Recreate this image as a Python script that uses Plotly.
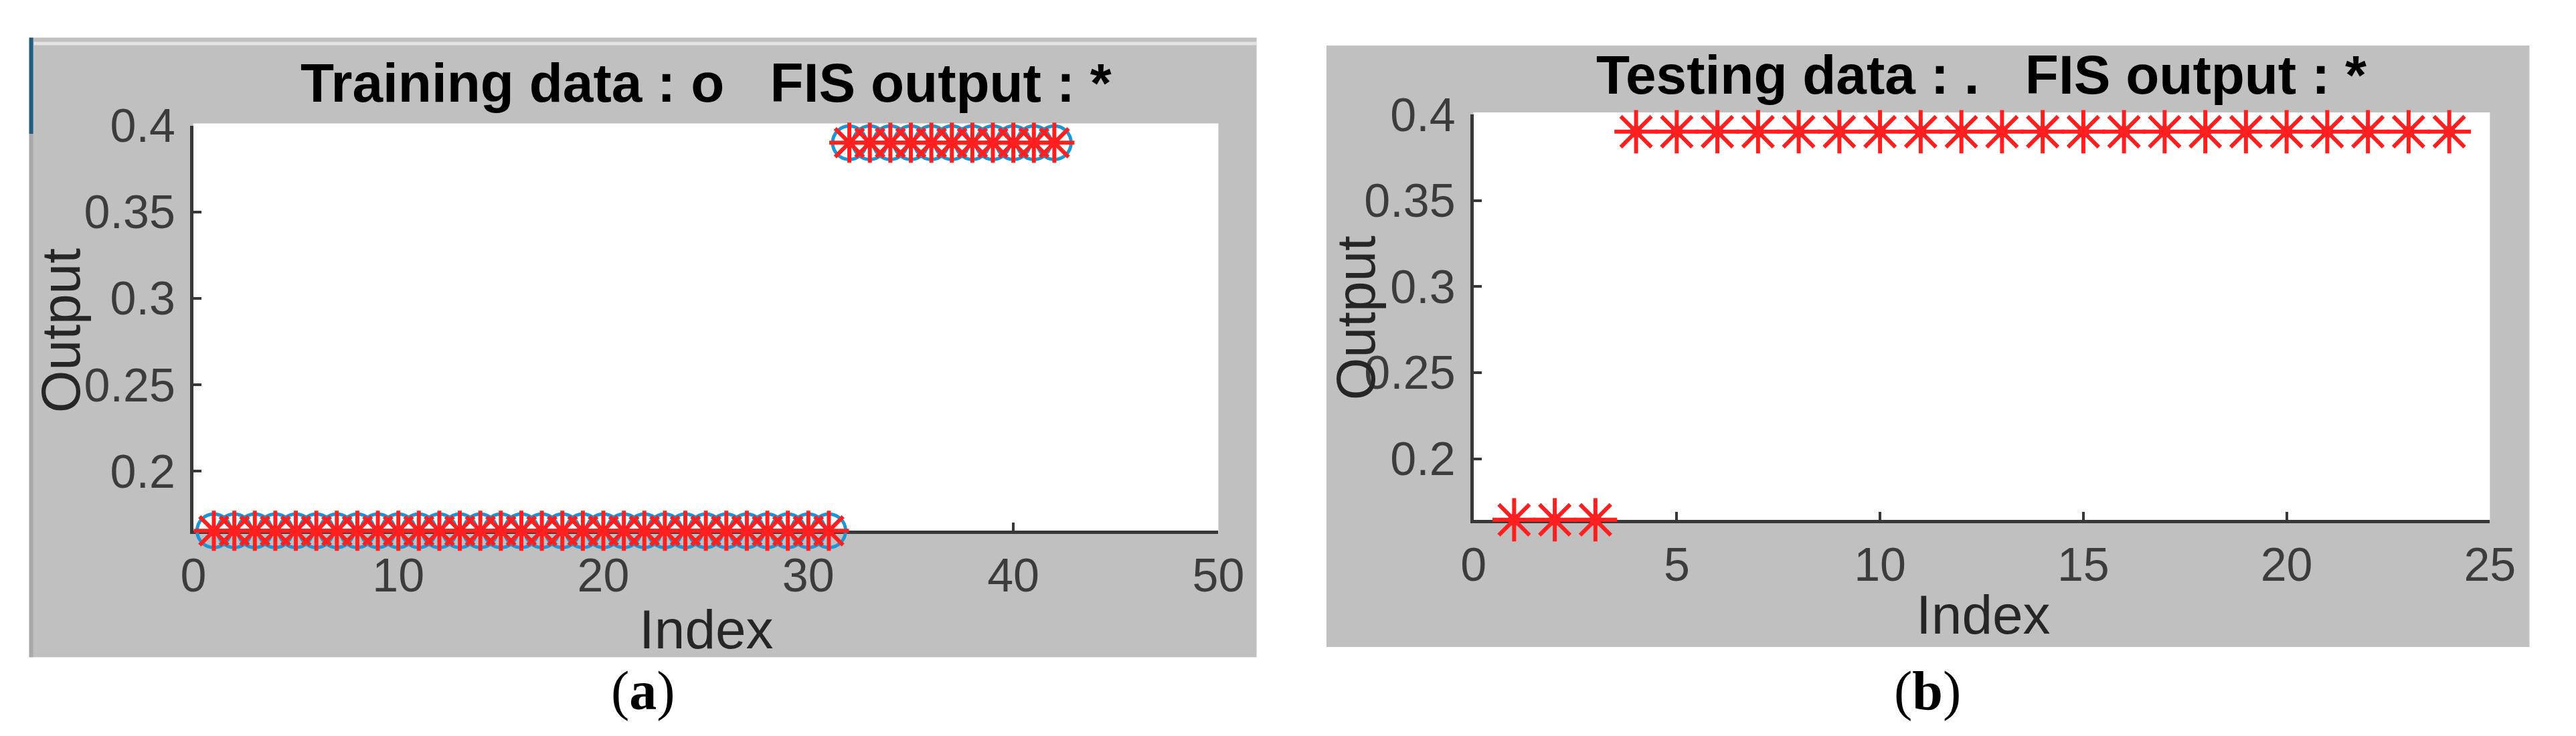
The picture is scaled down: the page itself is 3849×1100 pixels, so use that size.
import plotly.graph_objects as go

W, H = 3849, 1100

# ---------------- data ----------------
train_index = [1, 2, 3, 4, 5, 6, 7, 8, 9, 10, 11, 12, 13, 14, 15, 16, 17, 18, 19, 20, 21,
               22, 23, 24, 25, 26, 27, 28, 29, 30, 31, 32, 33, 34, 35, 36, 37, 38, 39, 40, 41, 42]
train_data = [0.1655, 0.1655, 0.1655, 0.1655, 0.1655, 0.1655, 0.1655, 0.1655, 0.1655, 0.1655,
              0.1655, 0.1655, 0.1655, 0.1655, 0.1655, 0.1655, 0.1655, 0.1655, 0.1655, 0.1655,
              0.1655, 0.1655, 0.1655, 0.1655, 0.1655, 0.1655, 0.1655, 0.1655, 0.1655, 0.1655,
              0.1655, 0.39, 0.39, 0.39, 0.39, 0.39, 0.39, 0.39, 0.39, 0.39, 0.39, 0.39]
train_fis = [0.1655, 0.1655, 0.1655, 0.1655, 0.1655, 0.1655, 0.1655, 0.1655, 0.1655, 0.1655,
             0.1655, 0.1655, 0.1655, 0.1655, 0.1655, 0.1655, 0.1655, 0.1655, 0.1655, 0.1655,
             0.1655, 0.1655, 0.1655, 0.1655, 0.1655, 0.1655, 0.1655, 0.1655, 0.1655, 0.1655,
             0.1655, 0.39, 0.39, 0.39, 0.39, 0.39, 0.39, 0.39, 0.39, 0.39, 0.39, 0.39]

test_index = [1, 2, 3, 4, 5, 6, 7, 8, 9, 10, 11, 12, 13, 14, 15, 16, 17, 18, 19, 20, 21, 22, 23, 24]
test_data = [0.1645, 0.1645, 0.1645, 0.39, 0.39, 0.39, 0.39, 0.39, 0.39, 0.39, 0.39, 0.39,
             0.39, 0.39, 0.39, 0.39, 0.39, 0.39, 0.39, 0.39, 0.39, 0.39, 0.39, 0.39]
test_fis = [0.1645, 0.1645, 0.1645, 0.39, 0.39, 0.39, 0.39, 0.39, 0.39, 0.39, 0.39, 0.39,
            0.39, 0.39, 0.39, 0.39, 0.39, 0.39, 0.39, 0.39, 0.39, 0.39, 0.39, 0.39]

train_xticks = [0, 10, 20, 30, 40, 50]
test_xticks = [0, 5, 10, 15, 20, 25]
yticks = [0.2, 0.25, 0.3, 0.35, 0.4]
ytick_labels = ["0.2", "0.25", "0.3", "0.35", "0.4"]

NB = "\u00a0"
train_title = "Training data : o" + NB * 3 + "FIS output : *"
test_title = "Testing data : ." + NB * 3 + "FIS output : *"
x_label = "Index"
y_label = "Output"
caption_a = "(<b>a</b>)"
caption_b = "(<b>b</b>)"


def px(x):
    return x / W


def py(y):
    return 1 - y / H


GRAY = "#c0c0c0"
AXC = "#383838"
TICKFONT = dict(family="Liberation Sans", size=70, color="#3c3c3c")
LABFONT = dict(family="Liberation Sans", size=82, color="#262626")
TITLEFONT = dict(family="Liberation Sans", size=82, color="#000000", weight="bold")
CAPFONT = dict(family="Liberation Serif", size=82, color="#000000")

fig = go.Figure()

# Training panel
fig.add_trace(go.Scatter(
    x=train_index, y=train_data, mode="markers", xaxis="x", yaxis="y",
    marker=dict(symbol="circle-open", size=50, color="#1c96d4",
                line=dict(width=5, color="#1c96d4")),
    cliponaxis=False, showlegend=False))
fig.add_trace(go.Scatter(
    x=train_index, y=train_fis, mode="markers", xaxis="x", yaxis="y",
    marker=dict(symbol="asterisk-open", size=50, color="#ff1f1f",
                line=dict(width=6, color="#ff1f1f")),
    cliponaxis=False, showlegend=False))

# Testing panel
fig.add_trace(go.Scatter(
    x=test_index, y=test_data, mode="markers", xaxis="x2", yaxis="y2",
    marker=dict(symbol="circle", size=18, color="#14389a"),
    cliponaxis=False, showlegend=False))
fig.add_trace(go.Scatter(
    x=test_index, y=test_fis, mode="markers", xaxis="x2", yaxis="y2",
    marker=dict(symbol="asterisk-open", size=54, color="#ff1f1f",
                line=dict(width=6, color="#ff1f1f")),
    cliponaxis=False, showlegend=False))

axis_common = dict(showgrid=False, zeroline=False, showline=True, linecolor=AXC,
                   linewidth=5, ticks="inside", ticklen=12, tickwidth=4, tickcolor=AXC,
                   tickfont=TICKFONT, layer="below traces", mirror=False)

fig.update_layout(
    width=W, height=H,
    margin=dict(l=0, r=0, t=0, b=0, pad=0),
    paper_bgcolor="white",
    plot_bgcolor="rgba(0,0,0,0)",
    xaxis=dict(domain=[px(274), px(1829)], range=[0, 50], tickvals=train_xticks,
               anchor="y", ticklabelstandoff=2, **axis_common),
    yaxis=dict(domain=[py(782), py(154)], range=[0.1655, 0.4], tickvals=yticks,
               ticktext=ytick_labels, anchor="x", ticklabelstandoff=8, **axis_common),
    xaxis2=dict(domain=[px(2216), px(3758)], range=[0, 25], tickvals=test_xticks,
                anchor="y2", ticklabelstandoff=2, **axis_common),
    yaxis2=dict(domain=[py(765), py(137)], range=[0.1645, 0.4], tickvals=yticks,
                ticktext=ytick_labels, anchor="x2", ticklabelstandoff=8, **axis_common),
)

shapes = [
    # gray panels
    dict(type="rect", xref="paper", yref="paper", x0=px(25), x1=px(1887), y0=py(978), y1=py(18),
         fillcolor=GRAY, line=dict(width=0), layer="below"),
    dict(type="rect", xref="paper", yref="paper", x0=px(1993), x1=px(3818), y0=py(962), y1=py(30),
         fillcolor=GRAY, line=dict(width=0), layer="below"),
    # light edge along top of panel (a)
    dict(type="line", xref="paper", yref="paper", x0=px(32), x1=px(1887), y0=py(27), y1=py(27),
         line=dict(width=5, color="#e4e4e4"), layer="below"),
    # window edge on the left of panel (a)
    dict(type="line", xref="paper", yref="paper", x0=px(28), x1=px(28), y0=py(167), y1=py(978),
         line=dict(width=6, color="#a9a9a9"), layer="below"),
    dict(type="line", xref="paper", yref="paper", x0=px(28), x1=px(28), y0=py(18), y1=py(167),
         line=dict(width=6, color="#1f5c82"), layer="below"),
    # white plot areas
    dict(type="rect", xref="x domain", yref="y domain", x0=0, x1=1, y0=0, y1=1.005,
         fillcolor="white", line=dict(width=0), layer="below"),
    dict(type="rect", xref="x2 domain", yref="y2 domain", x0=0, x1=1, y0=0, y1=1.005,
         fillcolor="white", line=dict(width=0), layer="below"),
]
fig.update_layout(shapes=shapes)

annotations = [
    dict(text=train_title, x=px(1052), y=py(88), xref="paper", yref="paper",
         xanchor="center", yanchor="middle", showarrow=False, font=TITLEFONT),
    dict(text=test_title, x=px(2987), y=py(75), xref="paper", yref="paper",
         xanchor="center", yanchor="middle", showarrow=False, font=TITLEFONT),
    dict(text=y_label, x=px(72), y=py(472), xref="paper", yref="paper", textangle=-90,
         xanchor="center", yanchor="middle", showarrow=False, font=LABFONT),
    dict(text=y_label, x=px(2038), y=py(452), xref="paper", yref="paper", textangle=-90,
         xanchor="center", yanchor="middle", showarrow=False, font=LABFONT),
    dict(text=x_label, x=px(1052), y=py(935), xref="paper", yref="paper",
         xanchor="center", yanchor="middle", showarrow=False, font=LABFONT),
    dict(text=x_label, x=px(2990), y=py(912), xref="paper", yref="paper",
         xanchor="center", yanchor="middle", showarrow=False, font=LABFONT),
    dict(text=caption_a, x=px(956), y=py(1030), xref="paper", yref="paper",
         xanchor="center", yanchor="middle", showarrow=False, font=CAPFONT),
    dict(text=caption_b, x=px(2905), y=py(1030), xref="paper", yref="paper",
         xanchor="center", yanchor="middle", showarrow=False, font=CAPFONT),
]
fig.update_layout(annotations=annotations)

fig.write_html("out.html", config={"displayModeBar": False},
               post_script="document.body.style.margin='0';")
